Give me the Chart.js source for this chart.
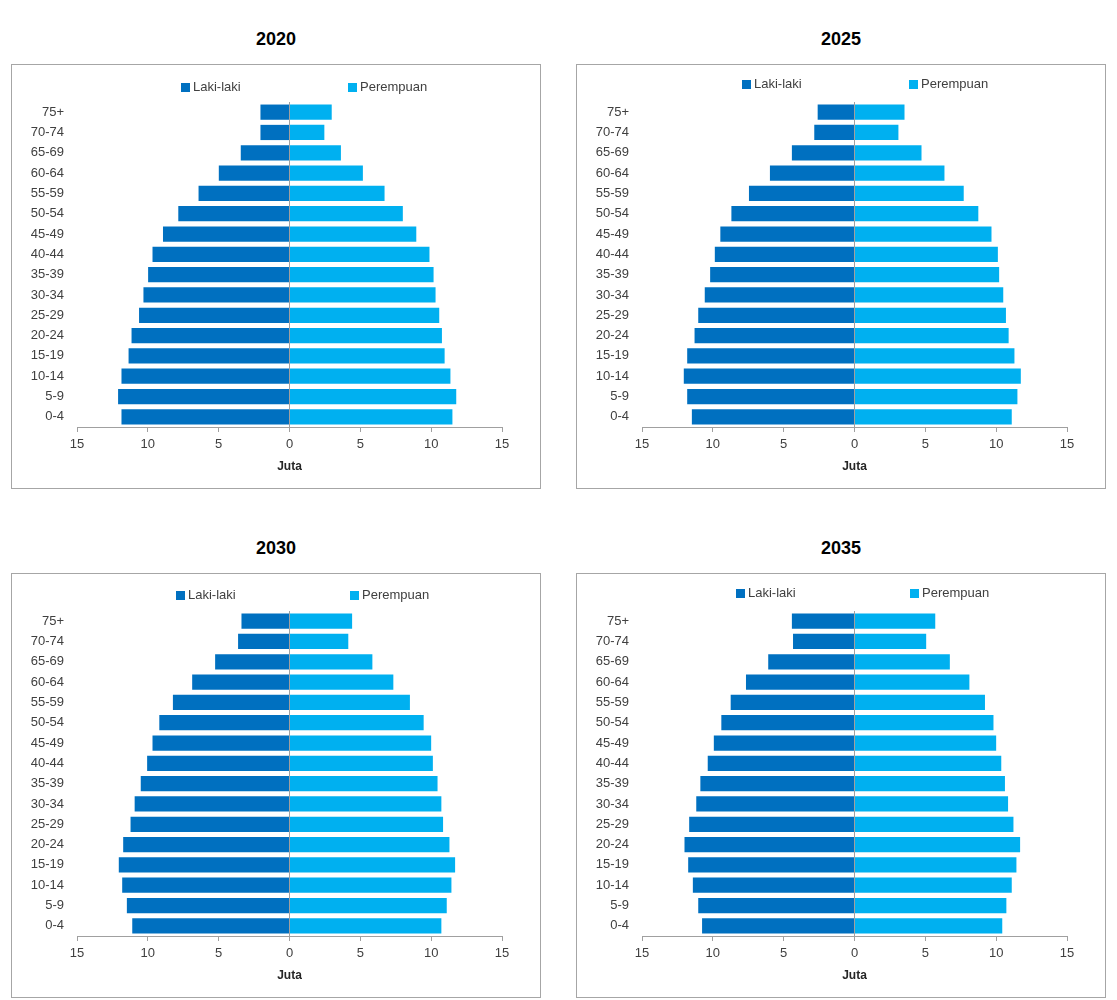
<!DOCTYPE html>
<html>
<head>
<meta charset="utf-8">
<script src="https://cdn.jsdelivr.net/npm/chart.js@4.4.1/dist/chart.umd.min.js"></script>
<style>
  body { margin: 0; background: #fff; font-family: "Liberation Sans", Arial, sans-serif; }
  .title { position: absolute; width: 530px; text-align: center; font-weight: bold; font-size: 18px; color: #000; line-height: 20px; }
  .panel { position: absolute; width: 528px; height: 423px; border: 1px solid #a6a6a6; background: #fff; }
  .panel canvas { position: absolute; left: 0; top: 0; }
  .lg { position: absolute; font-size: 13px; color: #404040; line-height: 15px; white-space: nowrap; }
  .lg i { display: inline-block; width: 9px; height: 9px; margin-right: 3px; vertical-align: -1px; }
</style>
</head>
<body>
<div id="root"></div>
<script>
// kelompok umur, dari atas ke bawah
const ageGroups = ["75+", "70-74", "65-69", "60-64", "55-59", "50-54", "45-49", "40-44",
  "35-39", "30-34", "25-29", "20-24", "15-19", "10-14", "5-9", "0-4"];

const years = ["2020", "2025", "2030", "2035"];

// juta jiwa
const male2020 = [2.05, 2.05, 3.44, 4.99, 6.42, 7.85, 8.93, 9.67, 9.98, 10.31, 10.62, 11.15, 11.36, 11.86, 12.10, 11.86];
const female2020 = [2.98, 2.46, 3.63, 5.18, 6.71, 8.00, 8.95, 9.88, 10.17, 10.31, 10.57, 10.76, 10.95, 11.36, 11.77, 11.50];

const male2025 = [2.60, 2.84, 4.42, 5.97, 7.45, 8.69, 9.47, 9.86, 10.19, 10.57, 11.03, 11.29, 11.81, 12.05, 11.81, 11.48];
const female2025 = [3.53, 3.10, 4.73, 6.35, 7.71, 8.74, 9.67, 10.12, 10.21, 10.50, 10.69, 10.88, 11.29, 11.74, 11.50, 11.10];

const male2030 = [3.39, 3.63, 5.25, 6.87, 8.23, 9.19, 9.67, 10.05, 10.50, 10.93, 11.22, 11.74, 12.05, 11.81, 11.48, 11.10];
const female2030 = [4.42, 4.15, 5.85, 7.33, 8.50, 9.47, 10.00, 10.12, 10.45, 10.72, 10.84, 11.29, 11.69, 11.43, 11.10, 10.72];

const male2035 = [4.42, 4.34, 6.09, 7.66, 8.74, 9.40, 9.93, 10.36, 10.88, 11.17, 11.67, 12.00, 11.74, 11.41, 11.03, 10.76];
const female2035 = [5.70, 5.06, 6.73, 8.11, 9.21, 9.81, 10.00, 10.36, 10.62, 10.84, 11.22, 11.69, 11.43, 11.10, 10.72, 10.43];

const xTicks = [-15, -10, -5, 0, 5, 10, 15];

const seriesNames = ["Laki-laki", "Perempuan"];
const maleColor = "#0070c0";
const femaleColor = "#00b0f0";

const males = [male2020, male2025, male2030, male2035];
const females = [female2020, female2025, female2030, female2035];

// posisi panel + legenda (relatif ke panel)
const panels = [
  { left: 11,  top: 64,  lgY: 14, lgA: 169, lgB: 336 },
  { left: 576, top: 64,  lgY: 11, lgA: 165, lgB: 332 },
  { left: 11,  top: 573, lgY: 13, lgA: 164, lgB: 338 },
  { left: 576, top: 573, lgY: 11, lgA: 159, lgB: 333 }
];

const textColor = "#404040";
const lineColor = "#a0a0a0";
const root = document.getElementById("root");

panels.forEach((p, i) => {
  const title = document.createElement("div");
  title.className = "title";
  title.style.left = p.left + "px";
  title.style.top = (p.top - 35) + "px";
  title.textContent = years[i];
  root.appendChild(title);

  const box = document.createElement("div");
  box.className = "panel";
  box.style.left = p.left + "px";
  box.style.top = p.top + "px";
  root.appendChild(box);

  const canvas = document.createElement("canvas");
  canvas.width = 528;
  canvas.height = 423;
  box.appendChild(canvas);

  [[seriesNames[0], maleColor, p.lgA], [seriesNames[1], femaleColor, p.lgB]].forEach(([name, color, x]) => {
    const lg = document.createElement("div");
    lg.className = "lg";
    lg.style.left = x + "px";
    lg.style.top = p.lgY + "px";
    lg.innerHTML = '<i style="background:' + color + '"></i>' + name;
    box.appendChild(lg);
  });

  new Chart(canvas.getContext("2d"), {
    type: "bar",
    data: {
      labels: ageGroups,
      datasets: [
        {
          label: seriesNames[0],
          data: males[i].map(v => -v),
          backgroundColor: maleColor,
          borderWidth: 0,
          barPercentage: 0.75,
          categoryPercentage: 1
        },
        {
          label: seriesNames[1],
          data: females[i],
          backgroundColor: femaleColor,
          borderWidth: 0,
          barPercentage: 0.75,
          categoryPercentage: 1
        }
      ]
    },
    options: {
      indexAxis: "y",
      responsive: false,
      animation: false,
      layout: { padding: { top: 37, right: 38, bottom: 0, left: 0 } },
      plugins: {
        legend: { display: false },
        tooltip: { enabled: false }
      },
      scales: {
        x: {
          stacked: true,
          min: -15,
          max: 15,
          afterBuildTicks: scale => { scale.ticks = xTicks.map(v => ({ value: v })); },
          afterFit: scale => { scale.height = 61; },
          grid: {
            color: ctx => (ctx.tick && ctx.tick.value === 0 ? lineColor : "rgba(0,0,0,0)"),
            tickColor: lineColor,
            tickLength: 5,
            lineWidth: 1
          },
          border: { display: true, color: lineColor, width: 1 },
          ticks: {
            color: textColor,
            padding: 5,
            font: { size: 13, family: "'Liberation Sans', Arial, sans-serif" },
            callback: v => Math.abs(v)
          },
          title: {
            display: true,
            text: "Juta",
            color: "#262626",
            padding: { top: 0, bottom: 14 },
            font: { size: 12, weight: "bold", family: "'Liberation Sans', Arial, sans-serif" }
          }
        },
        y: {
          stacked: true,
          afterFit: scale => { scale.width = 65; },
          grid: { display: false, drawTicks: false },
          border: { display: false },
          ticks: {
            color: textColor,
            padding: 13,
            autoSkip: false,
            font: { size: 13, family: "'Liberation Sans', Arial, sans-serif" }
          }
        }
      }
    }
  });
});
</script>
</body>
</html>
